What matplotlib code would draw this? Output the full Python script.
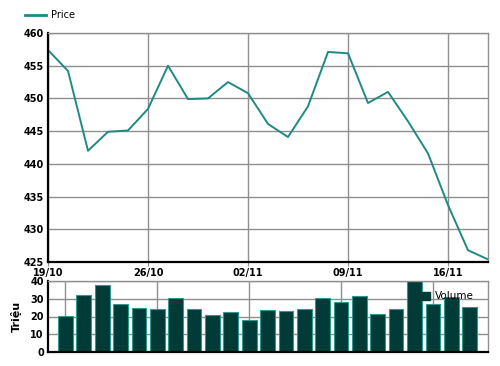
import numpy as np
import matplotlib
matplotlib.use("Agg")
from matplotlib import pyplot as plt
from matplotlib.patches import Patch
from matplotlib.lines import Line2D

# trading days, one point per session
price = [457.4, 454.2, 442.0, 444.9, 445.1, 448.4, 455.0, 449.9, 450.0, 452.5,
         450.8, 446.1, 444.1, 448.8, 457.1, 456.9, 449.3, 451.0, 446.5, 441.6,
         433.7, 426.8, 425.4]
volume = [20.5, 32.2, 37.5, 26.9, 25.0, 24.2, 30.7, 24.2, 21.0, 22.7,
          18.2, 23.5, 23.3, 24.2, 30.7, 28.2, 31.4, 21.6, 24.2, 42.0,
          26.9, 31.1, 25.6]
tick_pos = [0, 5, 10, 15, 20]
tick_labels = ["19/10", "26/10", "02/11", "09/11", "16/11"]

line_col = "#1f8a84"
bar_col = "#003b38"
bar_edge = "#2a9a90"
grid_col = "#8f8f8f"

plt.rcParams['font.family'] = 'DejaVu Sans'

fig = plt.figure(figsize=(5, 3.66), dpi=100)
W, H = 500, 366

def px_axes(left, top, right, bottom):
    return fig.add_axes([left / W, 1 - bottom / H, (right - left) / W, (bottom - top) / H])

def style(ax):
    ax.grid(True, color=grid_col, lw=1)
    ax.set_axisbelow(True)
    for s in ("top", "right"):
        ax.spines[s].set_color(grid_col)
        ax.spines[s].set_linewidth(1)
    for s in ("left", "bottom"):
        ax.spines[s].set_color("black")
        ax.spines[s].set_linewidth(1.6)
    ax.tick_params(axis="y", length=0, pad=3, labelsize=7)
    for lbl in ax.get_yticklabels():
        lbl.set_fontweight("bold")

# price
ax1 = px_axes(48, 33, 488, 262)
x = np.arange(len(price))
ax1.plot(x, price, color=line_col, lw=1.4)
ax1.set_xlim(0, len(price) - 1)
ax1.set_ylim(425, 460)
ax1.set_yticks(np.arange(425, 461, 5))
ax1.set_xticks(tick_pos)
ax1.set_xticklabels(tick_labels, fontsize=7, fontweight="bold")
ax1.tick_params(axis="x", length=3, color=grid_col, pad=1)
style(ax1)

fig.legend(handles=[Line2D([], [], color=line_col, lw=2, label="Price")],
           loc="center left", bbox_to_anchor=(20 / W, 1 - 15 / H),
           frameon=False, fontsize=7, borderpad=0, handlelength=2.2,
           handletextpad=0.5)

# volume
ax2 = px_axes(48, 281, 488, 352)
ax2.bar(x, volume, width=0.8, color=bar_col, edgecolor=bar_edge, lw=0.8)
ax2.set_xlim(-0.95, 23.0)
ax2.set_ylim(0, 40)
ax2.set_yticks([0, 10, 20, 30, 40])
ax2.set_xticks(tick_pos)
ax2.tick_params(axis="x", length=0, labelbottom=False)
style(ax2)
ax2.set_ylabel("Triệu", fontsize=8, fontweight="bold", labelpad=6)
ax2.legend(handles=[Patch(color=bar_col, label="Volume")],
           loc="upper left", bbox_to_anchor=(0.838, 0.93), frameon=False,
           fontsize=7.5, borderpad=0, handlelength=0.8, handleheight=0.8,
           handletextpad=0.4)

fig.savefig("out.png", dpi=100)
